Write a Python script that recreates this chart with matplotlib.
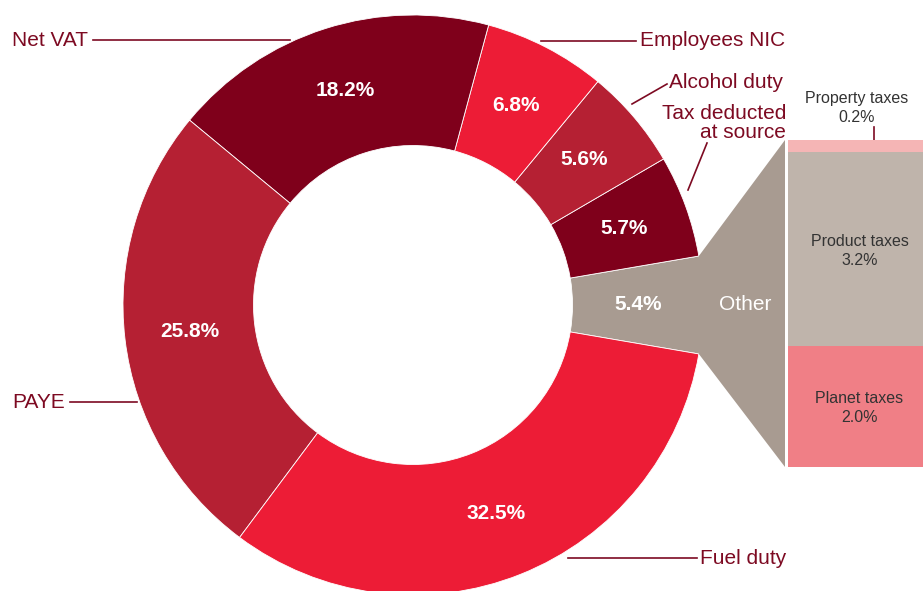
import numpy as np
import matplotlib.pyplot as plt

# Donut data, counter-clockwise starting from "Other" on the right
labels = ['Other', 'Tax deducted\nat source', 'Alcohol duty', 'Employees NIC',
          'Net VAT', 'PAYE', 'Fuel duty']
shares = [5.4, 5.7, 5.6, 6.8, 18.2, 25.8, 32.5]
colours = ['#A89B91', '#7F001B', '#B52033', '#ED1C36', '#7F001B', '#B52033', '#ED1C36']

# Breakdown of "Other", bottom to top
other_labels = ['Planet taxes', 'Product taxes', 'Property taxes']
other_shares = [2.0, 3.2, 0.2]
other_colours = ['#F07F86', '#BFB4AB', '#F5B5B5']

red_text = '#7D0A22'
plt.rcParams['font.family'] = ['Liberation Sans', 'DejaVu Sans']

fig = plt.figure(figsize=(9.23, 5.91), dpi=100)
ax = fig.add_axes([0, 0, 1, 1])

cx, cy, R = 413, 286, 290
hole = 0.55
start = -shares[0] / 100 * 360 / 2
ax.pie(shares, colors=colours, startangle=start, counterclock=True,
       center=(cx, cy), radius=R,
       wedgeprops=dict(width=R * (1 - hole), edgecolor='white', linewidth=0.6))
ax.set_xlim(0, 923)
ax.set_ylim(0, 591)
ax.set_aspect('auto')
ax.axis('off')

# percent labels inside the ring
angles = start + np.cumsum([0] + shares[:-1]) / 100 * 360 + np.array(shares) / 100 * 360 / 2
rmid = R * (1 + hole) / 2
for ang, s in zip(angles, shares):
    a = np.radians(ang)
    ax.text(cx + rmid * np.cos(a), cy + rmid * np.sin(a), f'{s:.1f}%',
            color='white', fontsize=15, fontweight='bold', ha='center', va='center')

# connector from "Other" wedge to the stacked bar
bx0, bx1, btop, bbot = 788, 923, 591 - 140, 591 - 467
a = np.radians(start)
px = cx + R * np.cos(a)
poly = plt.Polygon([(px, cy + R * np.sin(a)), (785, bbot), (785, btop),
                    (px, cy - R * np.sin(a)), (cx + R * 0.9, cy)],
                   closed=True, color=colours[0], lw=0)
ax.add_patch(poly)
ax.text(745, 591 - 305, 'Other', color='white', fontsize=15, ha='center', va='center')

# outer labels with leader lines
lw = 1.2
fs = 15
ax.plot([93, 290], [591 - 40, 591 - 40], color=red_text, lw=lw)
ax.text(12, 591 - 40, 'Net VAT', color=red_text, fontsize=fs, ha='left', va='center')
ax.plot([541, 636], [591 - 41, 591 - 41], color=red_text, lw=lw)
ax.text(640, 591 - 41, 'Employees NIC', color=red_text, fontsize=fs, ha='left', va='center')
ax.plot([632, 667], [591 - 104, 591 - 84], color=red_text, lw=lw)
ax.text(669, 591 - 82, 'Alcohol duty', color=red_text, fontsize=fs, ha='left', va='center')
ax.plot([688, 707], [591 - 190, 591 - 143], color=red_text, lw=lw)
ax.text(786, 591 - 123, 'Tax deducted\nat source', color=red_text, fontsize=fs,
        ha='right', va='center', linespacing=0.95)
ax.plot([70, 137], [591 - 402, 591 - 402], color=red_text, lw=lw)
ax.text(12, 591 - 402, 'PAYE', color=red_text, fontsize=fs, ha='left', va='center')
ax.plot([568, 697], [591 - 558, 591 - 558], color=red_text, lw=lw)
ax.text(700, 591 - 558, 'Fuel duty', color=red_text, fontsize=fs, ha='left', va='center')

# stacked bar for "Other"
bax = fig.add_axes([bx0 / 923, bbot / 591, (bx1 - bx0) / 923, (btop - bbot) / 591])
bottoms = np.cumsum([0] + other_shares[:-1])
bax.bar(0, other_shares, bottom=bottoms, width=1, color=other_colours, lw=0)
bax.set_xlim(-0.5, 0.5)
bax.set_ylim(0, sum(other_shares))
bax.axis('off')
for lab, s, b in zip(other_labels[:2], other_shares[:2], bottoms[:2]):
    bax.text(0.03, b + s / 2 - 0.03, f'{lab}\n{s:.1f}%', color='#333333', fontsize=11.5,
             ha='center', va='center', linespacing=1.3)

ax.text(857, 591 - 108, f'{other_labels[2]}\n{other_shares[2]:.1f}%', color='#333333',
        fontsize=11.5, ha='center', va='center', linespacing=1.25)
ax.plot([874, 874], [591 - 127, 591 - 148], color=red_text, lw=lw)

fig.savefig('out.png', dpi=100)
